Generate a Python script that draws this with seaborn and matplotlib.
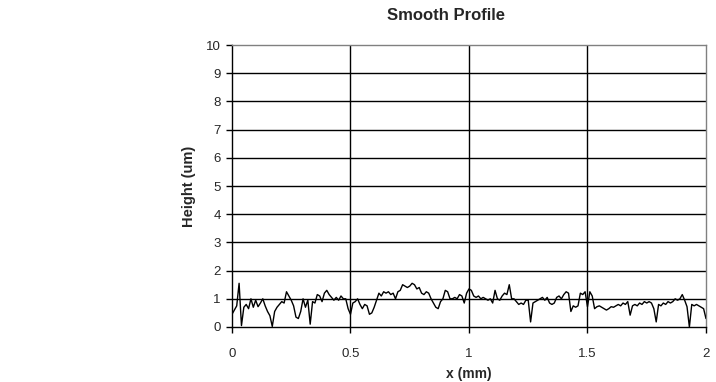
import numpy as np
import pandas as pd
import matplotlib
matplotlib.use("Agg")
import matplotlib.pyplot as plt
import seaborn as sns

# profile, one value every 0.01 mm
x_mm = np.round(np.arange(0, 201) * 0.01, 2)
height_um = [
    0.45, 0.60, 0.75, 1.55, 0.05, 0.70, 0.80, 0.65, 1.00, 0.70,
    0.95, 0.72, 0.85, 1.00, 0.75, 0.55, 0.40, 0.02, 0.55, 0.70,
    0.80, 0.90, 0.85, 1.25, 1.10, 0.95, 0.75, 0.35, 0.30, 0.55,
    1.00, 0.70, 0.95, 0.10, 0.90, 0.85, 1.15, 1.10, 0.90, 1.20,
    1.30, 1.15, 1.05, 0.95, 1.05, 0.95, 1.10, 1.00, 1.00, 0.65,
    0.45, 0.85, 0.90, 1.00, 0.80, 0.65, 0.80, 0.75, 0.45, 0.50,
    0.70, 0.95, 1.20, 1.10, 1.25, 1.20, 1.25, 1.15, 1.20, 1.00,
    1.25, 1.30, 1.50, 1.45, 1.40, 1.45, 1.55, 1.50, 1.35, 1.40,
    1.20, 1.15, 1.25, 1.20, 1.00, 0.85, 0.70, 0.65, 0.90, 1.00,
    1.30, 1.25, 1.00, 1.00, 1.05, 1.00, 1.15, 1.10, 0.85, 1.20,
    1.35, 1.30, 1.10, 1.05, 1.10, 1.00, 1.05, 1.00, 0.95, 1.00,
    0.85, 1.30, 1.00, 0.95, 1.10, 1.20, 1.15, 1.50, 1.00, 1.00,
    0.90, 0.80, 0.85, 0.80, 0.95, 0.95, 0.18, 0.85, 0.90, 0.95,
    1.00, 1.05, 0.95, 1.05, 0.85, 0.80, 0.85, 1.05, 1.10, 1.00,
    1.15, 1.25, 1.20, 0.55, 0.75, 0.70, 0.75, 1.20, 1.15, 1.25,
    0.72, 1.25, 1.10, 0.65, 0.72, 0.75, 0.70, 0.65, 0.60, 0.65,
    0.72, 0.70, 0.75, 0.80, 0.75, 0.85, 0.80, 0.90, 0.42, 0.75,
    0.80, 0.75, 0.85, 0.80, 0.90, 0.85, 0.90, 0.85, 0.65, 0.18,
    0.80, 0.75, 0.85, 0.80, 0.90, 0.85, 0.90, 1.00, 0.95, 1.00,
    1.15, 0.95, 0.72, 0.00, 0.80, 0.75, 0.80, 0.75, 0.70, 0.65,
    0.30,
]
x_ticks = [0, 0.5, 1, 1.5, 2]
x_tick_labels = ["0", "0.5", "1", "1.5", "2"]
y_ticks = list(range(0, 11))

df = pd.DataFrame({"x": x_mm, "h": height_um})

sns.set_style("white")
plt.rcParams["font.family"] = ["Liberation Sans", "DejaVu Sans"]

fig = plt.figure(figsize=(7.16, 3.82), dpi=100)
ax = fig.add_axes([0.324, 0.144, 0.662, 0.738])

# horizontal grid at each unit, vertical at each major x tick
for yv in y_ticks[1:-1]:
    ax.axhline(yv, color="black", lw=1.0, zorder=1)
for xv in x_ticks[1:-1]:
    ax.axvline(xv, color="black", lw=1.0, zorder=1)

sns.lineplot(data=df, x="x", y="h", ax=ax, color="black", lw=1.0, zorder=3)

ax.set_xlim(0, 2)
ax.set_ylim(0, 10)
ax.set_xticks(x_ticks)
ax.set_xticklabels(x_tick_labels)
ax.set_yticks(y_ticks)
ax.tick_params(axis="both", direction="out", length=4, width=1, color="black",
               labelsize=9.5, bottom=True, left=True)
ax.tick_params(axis="x", pad=11)
ax.tick_params(axis="y", pad=4)

for s in ["left", "bottom"]:
    ax.spines[s].set_color("black")
    ax.spines[s].set_linewidth(1)
for s in ["top", "right"]:
    ax.spines[s].set_color("#808080")
    ax.spines[s].set_linewidth(1)

# title sits a bit left of the plot centre in the original
ax.set_title("Smooth Profile", fontsize=12, fontweight="bold", pad=18, x=0.4525)
ax.set_xlabel("x (mm)", fontsize=10, fontweight="bold", labelpad=5.5)
ax.set_ylabel("Height (um)", fontsize=10.5, fontweight="bold", labelpad=7)

fig.savefig("out.png", dpi=100)
